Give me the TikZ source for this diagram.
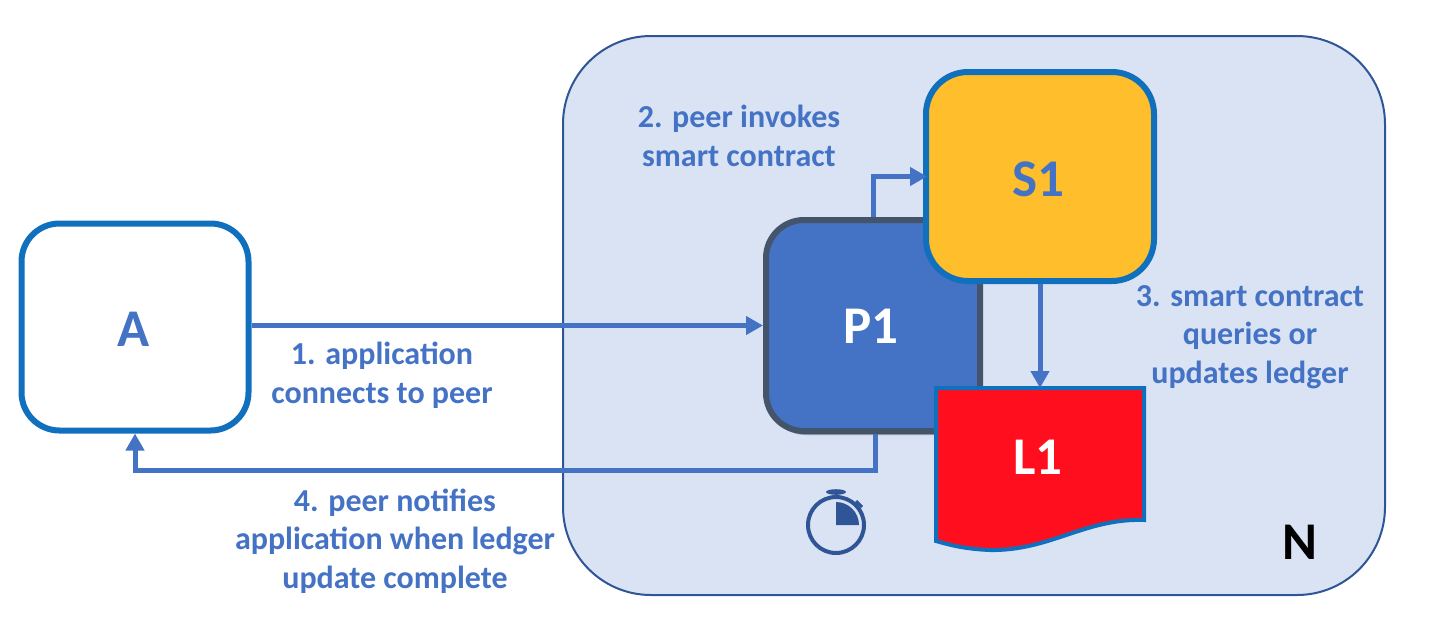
\documentclass[tikz,border=0pt]{standalone}
\usepackage{fontspec}
\setmainfont{Carlito}
\usetikzlibrary{arrows.meta,shadows,positioning}
\definecolor{txtblue}{HTML}{4472C4}
\definecolor{boxblue}{HTML}{1170BE}
\definecolor{netfill}{HTML}{DAE3F3}
\definecolor{netline}{HTML}{2F5597}
\definecolor{peerline}{HTML}{44546A}
\definecolor{scfill}{HTML}{FFBE2C}
\definecolor{ledgerred}{HTML}{FF0F1E}
\tikzset{
  x=0.5pt,y=-0.5pt,
  lbl/.style={font=\bfseries\fontsize{16}{19.3}\selectfont,text=txtblue,align=center,inner sep=0pt},
  big/.style={font=\bfseries\fontsize{26.5}{30}\selectfont,inner sep=0pt},
  sq/.style={draw=boxblue,line width=3pt,rounded corners=19pt,minimum width=113pt,inner sep=0pt},
  conn/.style={draw=txtblue,line width=2.5pt,-{Triangle[length=8.5pt,width=9pt]}},
}
\begin{document}
\begin{tikzpicture}
\useasboundingbox (0,0) rectangle (1432,634);
\node[draw=netline,fill=netfill,line width=1pt,rounded corners=44pt,minimum width=411pt,minimum height=279.5pt,inner sep=0pt] (N) at (974,315.5) {};
\node[big,text=black] (Nl) at (1300,542) {N};
% boxes
\node[sq,fill=white,minimum width=113.5pt,minimum height=103.5pt] (A) at (135,327) {};
\node[sq,draw=peerline,fill=txtblue,minimum width=107pt,minimum height=105.5pt,rounded corners=19pt,
  drop shadow={shadow xshift=1pt,shadow yshift=-2pt,opacity=.3,fill=black}] (P1) at (873,325.5) {};
\node[sq,fill=scfill,minimum width=114pt,minimum height=104.5pt,rounded corners=21pt] (S1) at (1040,176.5) {};
% ledger
\coordinate (Ltop) at (1040,388);
\draw[draw=boxblue,fill=ledgerred,line width=2pt]
  (936,388) -- (1144,388) -- (1144,520)
  .. controls (1085,518) and (1050,551) .. (990,550)
  .. controls (965,549) and (950,545) .. (936,541) -- cycle;
% connectors
\draw[conn] (A.east |- P1.west) -- (P1.west);
\draw[conn,shorten >=-2pt] (P1.north) |- (S1.west);
\draw[conn] (S1.south) -- (Ltop);
\coordinate (Bend) at (875,470);
\draw[conn] (P1.south -| Bend) -- (Bend) -| (A.south);
% labels
\node[big,text=txtblue] (Al) at (134,329) {A};
\node[big,text=white] (P1l) at (871,326) {P1};
\node[big,text=txtblue] (S1l) at (1038,179) {S1};
\node[big,text=white] (L1l) at (1038,457) {L1};
\node[lbl] (t1) at (382,375) {1. application\\connects to peer};
\node[lbl] (t2) at (739,136) {2. peer invokes\\smart contract};
\node[lbl] (t3) at (1250,337) {3. smart contract\\queries or\\updates ledger};
\node[lbl] (t4) at (395,541) {4. peer notifies\\application when ledger\\update complete};
% stopwatch
\coordinate (W) at (836,525);
\draw[netline,line width=2pt] (W) circle (14pt);
\fill[netline] (W) -- (836,502) arc (90:0:23*0.5pt) -- cycle;
\fill[netline] (836,492) ellipse (5pt and 1.4pt);
\draw[netline,line width=1.5pt] (836,492) -- (836,498);
\draw[netline,line width=1.5pt] (856,501) -- (862,507);
\draw[netline,line width=1pt] (855,507) -- (859,503);
\end{tikzpicture}
\end{document}
